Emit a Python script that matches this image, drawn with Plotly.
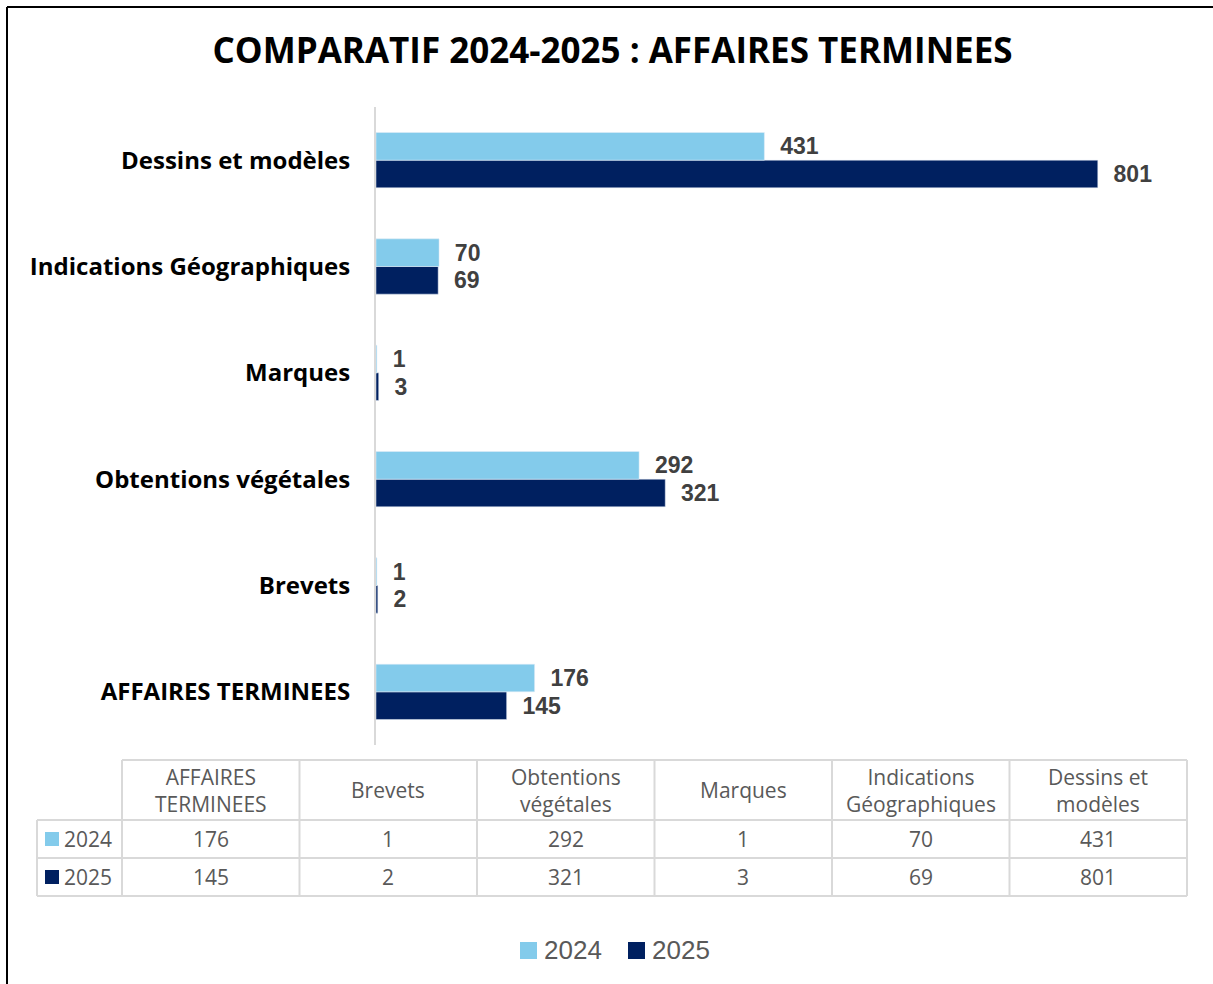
import plotly.graph_objects as go

categories = ["AFFAIRES TERMINEES", "Brevets", "Obtentions végétales", "Marques",
              "Indications Géographiques", "Dessins et modèles"]
table_headers = ["AFFAIRES<br>TERMINEES", "Brevets", "Obtentions<br>végétales", "Marques",
                 "Indications<br>Géographiques", "Dessins et<br>modèles"]
values_2024 = [176, 1, 292, 1, 70, 431]
values_2025 = [145, 2, 321, 3, 69, 801]
series_names = ["2024", "2025"]
title_text = "COMPARATIF 2024-2025 : AFFAIRES TERMINEES"

C2024 = "#83CBEB"
C2025 = "#002060"
W, H = 1213, 984
FONT = "Open Sans, sans-serif"
NUMFONT = "Liberation Sans, Arial, sans-serif"
NB = "\u00a0\u00a0"

def px(x):
    return x / W

def py(y):
    return 1 - y / H

fig = go.Figure()
fig.add_trace(go.Bar(
    y=categories, x=values_2025, name=series_names[1], orientation="h",
    marker=dict(color=C2025), texttemplate=NB + "%{x}", textposition="outside",
    textfont=dict(family=NUMFONT, size=23, color="#404040", weight="bold"),
    cliponaxis=False, showlegend=False,
))
fig.add_trace(go.Bar(
    y=categories, x=values_2024, name=series_names[0], orientation="h",
    marker=dict(color=C2024), texttemplate=NB + "%{x}", textposition="outside",
    textfont=dict(family=NUMFONT, size=23, color="#404040", weight="bold"),
    cliponaxis=False, showlegend=False,
))

plot_l, plot_r, plot_t, plot_b = 376, 1187, 107, 745

fig.update_layout(
    width=W, height=H,
    margin=dict(l=0, r=0, t=0, b=0),
    paper_bgcolor="white", plot_bgcolor="white",
    barmode="group", bargap=0.48, bargroupgap=0,
    title=dict(text=title_text, x=0.505, xanchor="center", y=py(51), yanchor="middle",
               font=dict(family=FONT, size=35, color="black", weight="bold")),
    xaxis=dict(domain=[px(plot_l), px(plot_r)], range=[0, 900], visible=False),
    yaxis=dict(domain=[py(plot_b), py(plot_t)], showline=True, linecolor="#D9D9D9",
               linewidth=2, ticks="", showgrid=False, zeroline=False,
               tickfont=dict(family=FONT, size=24, color="black", weight="bold"),
               ticklabelstandoff=19),
    showlegend=False,
)

shapes = []
# outer black frame (left and top)
shapes.append(dict(type="line", xref="paper", yref="paper", x0=px(7), x1=px(7), y0=py(7), y1=0,
                   line=dict(color="black", width=2)))
shapes.append(dict(type="line", xref="paper", yref="paper", x0=px(7), x1=1, y0=py(7), y1=py(7),
                   line=dict(color="black", width=2)))

# data table
t_left, t_key_r, t_right = 37, 122, 1187
row_y = [760, 820, 858, 896]
ncol = len(categories)
colw = (t_right - t_key_r) / ncol
grid = dict(color="#D9D9D9", width=2)
shapes.append(dict(type="line", xref="paper", yref="paper", x0=px(t_key_r), x1=px(t_right),
                   y0=py(row_y[0]), y1=py(row_y[0]), line=grid))
for yy in row_y[1:]:
    shapes.append(dict(type="line", xref="paper", yref="paper", x0=px(t_left), x1=px(t_right),
                       y0=py(yy), y1=py(yy), line=grid))
shapes.append(dict(type="line", xref="paper", yref="paper", x0=px(t_left), x1=px(t_left),
                   y0=py(row_y[1]), y1=py(row_y[3]), line=grid))
for i in range(ncol + 1):
    xx = t_key_r + i * colw
    shapes.append(dict(type="line", xref="paper", yref="paper", x0=px(xx), x1=px(xx),
                       y0=py(row_y[0]), y1=py(row_y[3]), line=grid))

annotations = []
tfont = dict(family=FONT, size=21, color="#595959")
for i, h in enumerate(table_headers):
    cx = t_key_r + (i + 0.5) * colw
    annotations.append(dict(xref="paper", yref="paper", x=px(cx), y=py((row_y[0] + row_y[1]) / 2),
                            text=h, showarrow=False, font=tfont, xanchor="center", yanchor="middle"))
for r, (vals, col, nm) in enumerate([(values_2024, C2024, series_names[0]),
                                      (values_2025, C2025, series_names[1])]):
    ymid = (row_y[r + 1] + row_y[r + 2]) / 2
    for i, v in enumerate(vals):
        cx = t_key_r + (i + 0.5) * colw
        annotations.append(dict(xref="paper", yref="paper", x=px(cx), y=py(ymid), text=str(v),
                                showarrow=False, font=tfont, xanchor="center", yanchor="middle"))
    shapes.append(dict(type="rect", xref="paper", yref="paper", x0=px(45), x1=px(59),
                       y0=py(ymid - 7), y1=py(ymid + 7), fillcolor=col, line=dict(width=0)))
    annotations.append(dict(xref="paper", yref="paper", x=px(62), y=py(ymid), text=nm,
                            showarrow=False, font=tfont, xanchor="left", yanchor="middle"))

# legend (bottom)
lfont = dict(family=NUMFONT, size=26, color="#595959")
for x0, col, nm in [(520, C2024, series_names[0]), (628, C2025, series_names[1])]:
    shapes.append(dict(type="rect", xref="paper", yref="paper", x0=px(x0), x1=px(x0 + 17),
                       y0=py(959), y1=py(942), fillcolor=col, line=dict(width=0)))
    annotations.append(dict(xref="paper", yref="paper", x=px(x0 + 22), y=py(950), text=nm,
                            showarrow=False, font=lfont, xanchor="left", yanchor="middle"))

fig.update_layout(shapes=shapes, annotations=annotations)
fig.write_html("out.html", config={"displayModeBar": False},
               post_script="document.body.style.margin='0';")
